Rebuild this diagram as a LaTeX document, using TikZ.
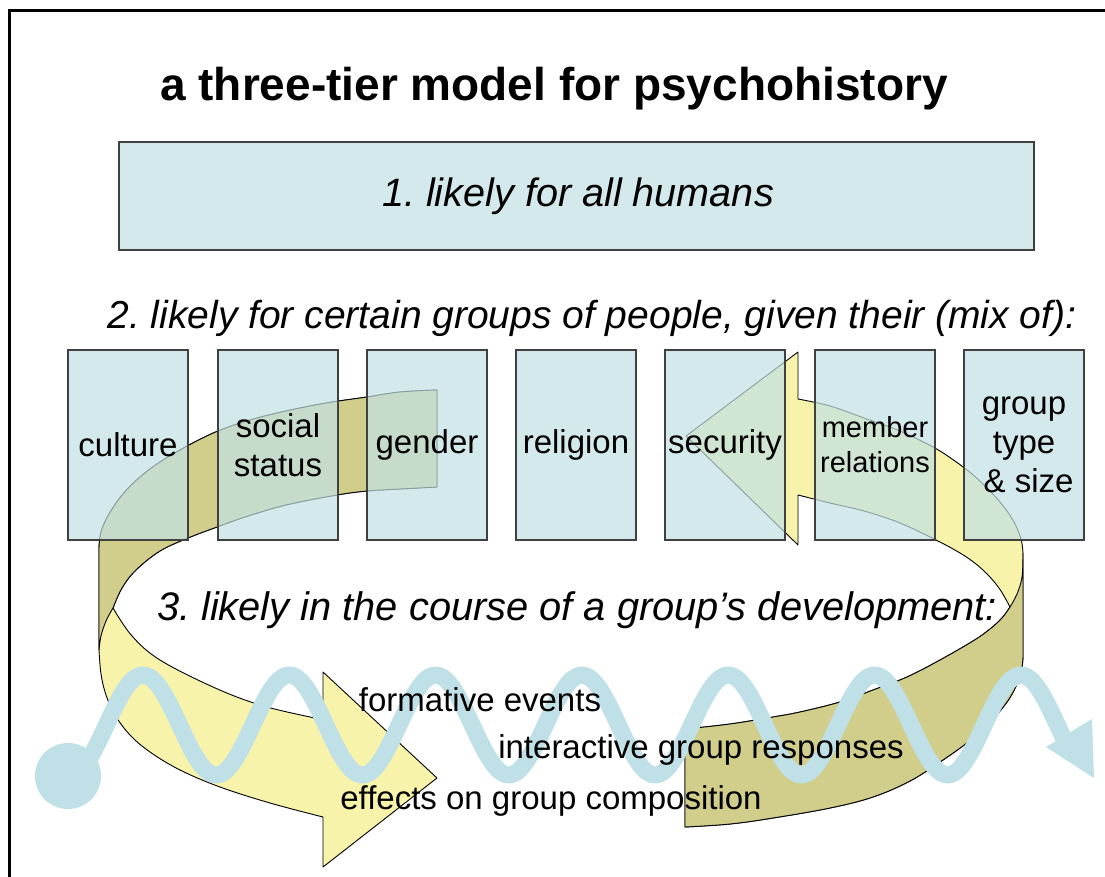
\documentclass[tikz,border=0pt]{standalone}
\usepackage{fontspec}
\setmainfont{Liberation Sans}
\definecolor{boxc}{RGB}{194,225,228}
\definecolor{ylw}{RGB}{247,243,170}
\definecolor{olv}{RGB}{209,205,139}
\definecolor{wavec}{RGB}{190,224,230}
\frenchspacing
\begin{document}
\begin{tikzpicture}[x=1pt,y=-1pt,
  bx/.style={draw=black!75, line width=1.2pt, fill=boxc, fill opacity=0.7, text opacity=1,
    minimum width=120pt, minimum height=190pt, inner sep=0pt, align=center,
    font=\fontsize{33}{39}\selectfont},
  topbox/.style={draw=black!75, line width=1.5pt, fill=boxc, fill opacity=0.7, text opacity=1,
    minimum width=915pt, minimum height=108pt, inner sep=0pt},
  itl/.style={inner sep=0pt, font=\fontsize{39}{47}\selectfont\itshape},
  low/.style={inner sep=0pt, font=\fontsize{33}{40}\selectfont},
  rib/.style={draw=black, line width=0.9pt, line join=round},
  wave/.style={draw=wavec, line width=17pt, line cap=round, line join=round},
  sm/.style={smooth, tension=0.6}]
\useasboundingbox (0,0) rectangle (1105,877);
\fill[white] (0,0) rectangle (1105,877);
% frame
\draw[line width=3pt] (9,880) -- (9,11) -- (1110,11);
% title
\node[inner sep=0pt, font=\fontsize{46}{55}\selectfont\bfseries] (title) at (554,89) {a three-tier model for psychohistory};
% tier 1
\node[topbox] (t1) at (576.5,196) {};
\node[itl, font=\fontsize{39.6}{47}\selectfont\itshape] (t1text) at (578,196) {1. likely for all humans};
% tier 2 heading
\node[itl] (t2) at (592,318) {2. likely for certain groups of people, given their (mix of):};

% ---- arrow 1 (top-left back, bottom-left front) ----
\path[rib, fill=ylw] (437,390)
  -- plot[sm] coordinates {(437,390) (400,392) (367,397) (326,403) (286,411) (250,420) (218,431) (189,445) (160,462) (140,477) (123,494) (109,514) (101,532) (99,548)}
  -- (99,650)
  -- plot[sm] coordinates {(99,650) (101,674) (106,695) (115,715) (130,735) (150,752) (180,770) (220,787) (270,803) (323,817)}
  -- (323,867) -- (437,778) -- (323,672) -- (323,719)
  -- plot[sm] coordinates {(323,719) (310,717) (260,705) (213,687) (160,660) (132,636) (113,608)}
  -- plot[sm] coordinates {(113,608) (122,588) (136,570) (160,551) (188,538) (217,527) (245,517) (286,505) (337,495) (367,491) (400,489) (437,487)}
  -- cycle;
\path[rib, fill=olv] (437,390)
  -- plot[sm] coordinates {(437,390) (400,392) (367,397) (326,403) (286,411) (250,420) (218,431) (189,445) (160,462) (140,477) (123,494) (109,514) (101,532) (99,548)}
  -- (99,650)
  -- plot[sm] coordinates {(99,650) (101,636) (106,621) (113,608)}
  -- plot[sm] coordinates {(113,608) (122,588) (136,570) (160,551) (188,538) (217,527) (245,517) (286,505) (337,495) (367,491) (400,489) (437,487)}
  -- cycle;

% ---- arrow 2 (bottom-right back, top-right front) ----
\path[rib, fill=ylw] (685,729) -- (685,827)
  -- plot[sm] coordinates {(685,827) (730,824) (773,818) (830,808) (873,797) (910,781) (940,762) (968,742) (990,722) (1007,702) (1017,684) (1022,667) (1023,655)}
  -- (1023,553)
  -- plot[sm] coordinates {(1023,553) (1021,539) (1014,522) (1004,507) (990,491) (972,474) (952,459) (933,447) (900,431) (864,418) (830,406) (798,399)}
  -- (798,352) -- (686,436) -- (798,545) -- (798,495)
  -- plot[sm] coordinates {(798,495) (830,503) (864,511) (900,523) (936,540) (960,553) (976,564) (990,577) (1001,591) (1010,607)}
  -- plot[sm] coordinates {(1010,607) (1002,618) (990,629) (973,641) (940,660) (907,677) (873,690) (840,702) (800,712) (773,717) (730,724) (685,729)}
  -- cycle;
\path[rib, fill=olv] (685,729) -- (685,827)
  -- plot[sm] coordinates {(685,827) (730,824) (773,818) (830,808) (873,797) (910,781) (940,762) (968,742) (990,722) (1007,702) (1017,684) (1022,667) (1023,655)}
  -- (1023,553)
  -- plot[sm] coordinates {(1023,553) (1022,577) (1017,594) (1010,607)}
  -- plot[sm] coordinates {(1010,607) (1002,618) (990,629) (973,641) (940,660) (907,677) (873,690) (840,702) (800,712) (773,717) (730,724) (685,729)}
  -- cycle;

% ---- tier 2 boxes ----
\node[bx] (culture) at (128,445) {culture};
\node[bx] (social) at (278,445) {social\\status};
\node[bx] (gender) at (427,445) {gender};
\node[bx] (religion) at (576,445) {religion};
\node[bx] (security) at (725,445) {security};
\node[bx, font=\fontsize{29}{35}\selectfont] (member) at (875,445) {member\\relations};
\node[bx] (group) at (1024,445) {group\\type\\\ \& size};

% tier 3 heading
\node[itl, font=\fontsize{39.8}{47}\selectfont\itshape] (t3) at (577,610) {3. likely in the course of a group’s development:};

% ---- wave ----
\fill[wavec] (68,776) circle (33);
\draw[wave] plot[domain=70:1066, samples=300, smooth] (\x, {725-50*cos(2.4607*(\x-143))});
\fill[wavec] (1046,747) -- (1092,719) -- (1094,778) -- cycle;

% bottom labels
\node[low] (ev1) at (480,700) {formative events};
\node[low] (ev2) at (701,750) {interactive group responses};
\node[low] (ev3) at (551,801) {effects on group composition};
\end{tikzpicture}
\end{document}
